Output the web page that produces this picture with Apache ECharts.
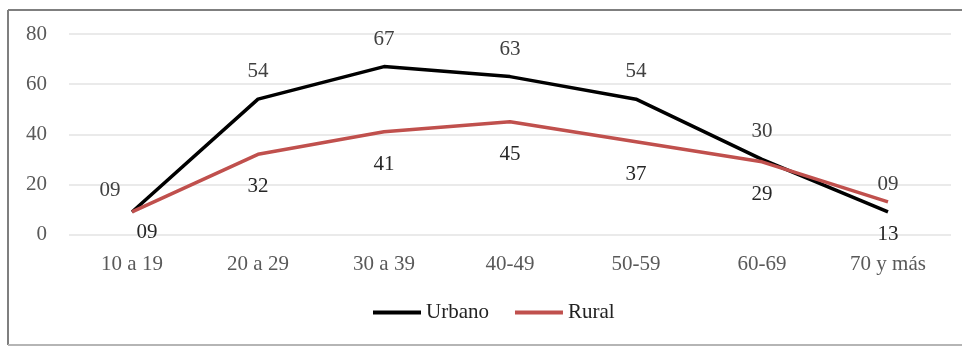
<!DOCTYPE html>
<html>
<head>
<meta charset="utf-8">
<script src="https://cdn.jsdelivr.net/npm/echarts@6/dist/echarts.min.js"></script>
<style>
  html, body { margin: 0; padding: 0; background: #fff; }
  #chart { width: 962px; height: 347px; }
</style>
</head>
<body>
<div id="chart"></div>
<script>
// Age groups on the x axis
const categories = ['10 a 19', '20 a 29', '30 a 39', '40-49', '50-59', '60-69', '70 y más'];
// Values per area
const urbano = [9, 54, 67, 63, 54, 30, 9];
const rural = [9, 32, 41, 45, 37, 29, 13];
// Value axis ticks
const yTicks = [0, 20, 40, 60, 80];

const FONT = '"Liberation Serif", "Times New Roman", serif';
const FS = 21;
const pad2 = v => (v < 10 ? '0' + v : String(v));

const chart = echarts.init(document.getElementById('chart'), null, { renderer: 'canvas' });

// The first point of each series carries its label slightly off to the side
const urbanoData = urbano.map((v, i) => i === 0
  ? { value: v, label: { position: 'top', offset: [-22, 6] } }
  : v);
const ruralData = rural.map((v, i) => i === 0
  ? { value: v, label: { position: 'bottom', offset: [15, -12] } }
  : v);

chart.setOption({
  animation: false,
  backgroundColor: '#fff',
  graphic: [
    { type: 'line', shape: { x1: 8, y1: 10, x2: 8, y2: 345 }, style: { stroke: '#7f7f7f', lineWidth: 2 } },
    { type: 'line', shape: { x1: 8, y1: 10, x2: 962, y2: 10 }, style: { stroke: '#7f7f7f', lineWidth: 2 } },
    { type: 'line', shape: { x1: 8, y1: 345, x2: 962, y2: 345 }, style: { stroke: '#b5b5b5', lineWidth: 2 } }
  ],
  grid: { left: 69, right: 11, top: 34, bottom: 112.5, containLabel: false },
  legend: {
    bottom: 19,
    left: 368,
    itemWidth: 48,
    itemHeight: 4,
    itemGap: 26,
    icon: 'rect',
    textStyle: { fontFamily: FONT, fontSize: FS, color: '#222' },
    data: ['Urbano', 'Rural']
  },
  xAxis: {
    type: 'category',
    data: categories,
    boundaryGap: true,
    axisLine: { show: false },
    axisTick: { show: false },
    axisLabel: { fontFamily: FONT, fontSize: FS, color: '#595959', margin: 19 }
  },
  yAxis: {
    type: 'value',
    min: yTicks[0],
    max: yTicks[yTicks.length - 1],
    interval: 20,
    axisLine: { show: false },
    axisTick: { show: false },
    splitLine: { lineStyle: { color: '#e3e3e3', width: 1.5 } },
    axisLabel: { fontFamily: FONT, fontSize: FS, color: '#595959', margin: 22 }
  },
  series: [
    {
      name: 'Urbano',
      type: 'line',
      data: urbanoData,
      symbol: 'circle',
      symbolSize: 0.01,
      showSymbol: true,
      lineStyle: { color: '#000', width: 3.5 },
      itemStyle: { color: '#000' },
      label: {
        show: true, position: 'top', distance: 17,
        fontFamily: FONT, fontSize: FS, color: '#404040',
        formatter: p => pad2(p.value)
      },
      z: 3
    },
    {
      name: 'Rural',
      type: 'line',
      data: ruralData,
      symbol: 'circle',
      symbolSize: 0.01,
      showSymbol: true,
      lineStyle: { color: '#c0504d', width: 3.5 },
      itemStyle: { color: '#c0504d' },
      label: {
        show: true, position: 'bottom', distance: 22,
        fontFamily: FONT, fontSize: FS, color: '#262626',
        formatter: p => pad2(p.value)
      },
      z: 4
    }
  ]
});
</script>
</body>
</html>
